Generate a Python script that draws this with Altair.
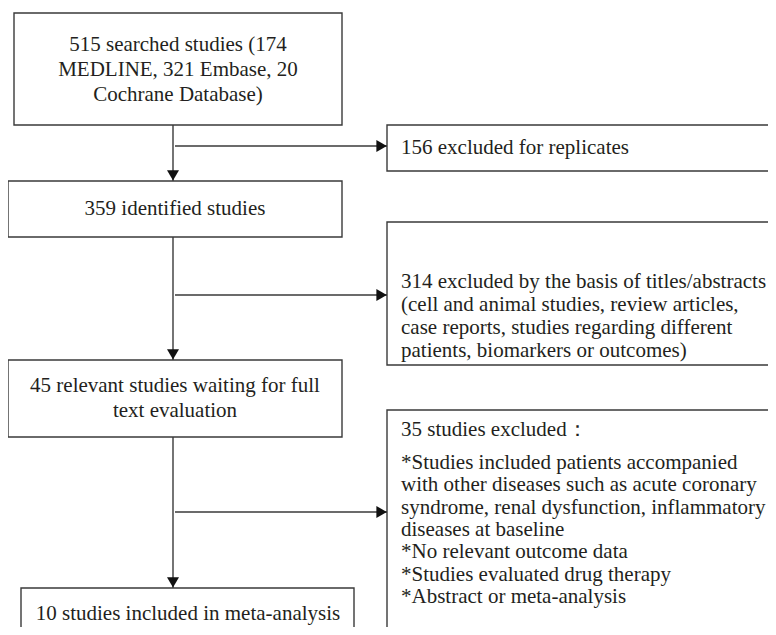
import altair as alt
import pandas as pd

# ---- text content (data) ----
box_ids = ["b1", "b2", "b3", "b4", "r1", "r2", "r3"]
box_lines = [
    ["515 searched studies (174", "MEDLINE, 321 Embase, 20", "Cochrane Database)"],
    ["359 identified studies"],
    ["45 relevant studies waiting for full", "text evaluation"],
    ["10 studies included in meta-analysis"],
    ["156 excluded for replicates"],
    ["314 excluded by the basis of titles/abstracts",
     "(cell and animal studies, review articles,",
     "case reports, studies regarding different",
     "patients, biomarkers or outcomes)"],
    ["35 studies excluded：",
     "*Studies included patients accompanied",
     "with other diseases such as acute coronary",
     "syndrome, renal dysfunction, inflammatory",
     "diseases at baseline",
     "*No relevant outcome data",
     "*Studies evaluated drug therapy",
     "*Abstract or meta-analysis"],
]

# ---- layout (reference pixel coordinates) ----
box_x1 = [14, 8, 8, 21, 387, 387, 387]
box_x2 = [342, 342, 342, 354, 800, 800, 800]
box_y1 = [13, 181, 360, 588, 125, 222, 410]
box_y2 = [125, 237, 437, 660, 171, 365, 680]
text_align = ["center", "center", "center", "center", "left", "left", "left"]
text_x = [178, 175, 175, 188, 401, 401, 401]
first_baseline = [51, 215, 392, 620, 154, 288, 436]
line_gap = [25, 25, 25, 25, 23, 23, 22.3]
extra_first_gap = [0, 0, 0, 0, 0, 0, 10.7]

spine_x = 173
branch_y = [146, 295, 512]
branch_x1 = 175
branch_x2 = 387
down_links = [("b1", "b2"), ("b2", "b3"), ("b3", "b4")]

W, H = 760, 619
X0, Y0 = 8, 8
xs = alt.Scale(domain=[X0, X0 + W], nice=False, zero=False)
ys = alt.Scale(domain=[Y0, Y0 + H], nice=False, zero=False, reverse=True)

line_col = "#3a3a3a"
text_col = "#231f20"

boxes = pd.DataFrame({"id": box_ids, "x1": box_x1, "x2": box_x2,
                      "y1": box_y1, "y2": box_y2})

rows = []
for i, lines in enumerate(box_lines):
    for j, t in enumerate(lines):
        y = first_baseline[i] + j * line_gap[i] + (extra_first_gap[i] if j > 0 else 0)
        rows.append({"text": t, "x": text_x[i], "y": y, "align": text_align[i]})
texts = pd.DataFrame(rows)

idx = {b: k for k, b in enumerate(box_ids)}
seg = []
heads_down = []
for a, b in down_links:
    seg.append({"x1": spine_x, "x2": spine_x, "y1": box_y2[idx[a]], "y2": box_y1[idx[b]]})
    heads_down.append({"x": spine_x, "y": box_y1[idx[b]] - 5.6})
heads_right = []
for yb in branch_y:
    seg.append({"x1": branch_x1, "x2": branch_x2, "y1": yb, "y2": yb})
    heads_right.append({"x": branch_x2 - 5.4, "y": yb})
segs = pd.DataFrame(seg)

rects = alt.Chart(boxes).mark_rect(
    fill="white", stroke=line_col, strokeWidth=1.4, clip=True
).encode(
    x=alt.X("x1:Q", scale=xs, axis=None), x2="x2:Q",
    y=alt.Y("y1:Q", scale=ys, axis=None), y2="y2:Q",
)

rules = alt.Chart(segs).mark_rule(color=line_col, strokeWidth=1.4).encode(
    x=alt.X("x1:Q", scale=xs, axis=None), x2="x2:Q",
    y=alt.Y("y1:Q", scale=ys, axis=None), y2="y2:Q",
)

hd = alt.Chart(pd.DataFrame(heads_down)).mark_point(
    shape="triangle-down", size=144, filled=True, color="#111111", opacity=1, strokeWidth=0
).encode(x=alt.X("x:Q", scale=xs, axis=None), y=alt.Y("y:Q", scale=ys, axis=None))

hr = alt.Chart(pd.DataFrame(heads_right)).mark_point(
    shape="triangle-right", size=144, filled=True, color="#111111", opacity=1, strokeWidth=0
).encode(x=alt.X("x:Q", scale=xs, axis=None), y=alt.Y("y:Q", scale=ys, axis=None))

tc = alt.Chart(texts[texts["align"] == "center"]).mark_text(
    align="center", baseline="alphabetic", font="Liberation Serif", fontSize=21, color=text_col
).encode(x=alt.X("x:Q", scale=xs, axis=None), y=alt.Y("y:Q", scale=ys, axis=None), text="text:N")

tl = alt.Chart(texts[texts["align"] == "left"]).mark_text(
    align="left", baseline="alphabetic", font="Liberation Serif", fontSize=21, color=text_col
).encode(x=alt.X("x:Q", scale=xs, axis=None), y=alt.Y("y:Q", scale=ys, axis=None), text="text:N")

chart = alt.layer(rules, rects, hd, hr, tc, tl).properties(
    width=W, height=H, padding=0, autosize=alt.AutoSizeParams(type="none")
).configure_view(strokeWidth=0, stroke="transparent", fill="white")

chart.save("out.html", embed_options={"renderer": "svg", "actions": False})
